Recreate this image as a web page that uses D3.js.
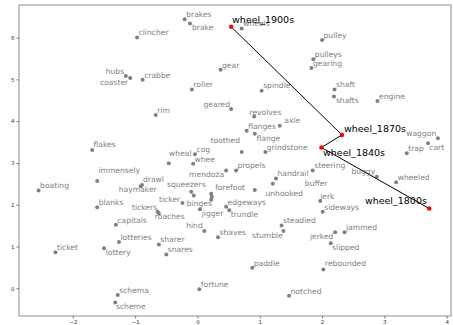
<!DOCTYPE html>
<html>
<head>
<meta charset="utf-8">
<script src="https://cdn.jsdelivr.net/npm/d3@7"></script>
<style>
html,body{margin:0;padding:0;background:#fff;}
svg{display:block;}
</style>
</head>
<body>
<svg id="chart" width="453" height="325"></svg>
<script>
// ---- data ----
const words = ["brakes","brake","wheels","clincher","hubs","coaster","crabbe","gear","roller","spindle",
  "pulley","pulleys","gearing","shaft","shafts","engine","rim","geared","revolves","axle",
  "flanges","flange","toothed","grindstone","wheal","cog","whee","mendoza","propels","handrail",
  "buffer","steering","waggon","cart","trap","buggy","wheeled","flakes","immensely","boating",
  "drawl","haymaker","squeezers","binges","ticker","forefoot","","","unhooked","edgeways",
  "trundle","jigger","jerk","sideways","blanks","tickers","roaches","capitals","hind","shaves",
  "stumble","steadied","jammed","jerked","slipped","lotteries","lottery","ticket","sharer","snares",
  "paddle","rebounded","fortune","notched","schema","scheme"];
const xs = [-0.205,-0.12,0.71,-0.97,-1.15,-1.08,-0.88,0.37,-0.09,1.03,
  2.00,1.86,1.83,2.20,2.19,2.89,-0.67,0.54,0.91,1.32,
  0.79,0.92,0.71,1.09,-0.46,-0.04,-0.07,0.46,0.62,1.26,
  1.21,1.85,3.86,3.70,3.36,2.88,3.19,-1.69,-1.61,-2.55,
  -0.89,-0.91,-0.10,-0.06,-0.24,0.22,0.23,0.22,0.92,0.46,
  0.51,0.04,1.97,2.01,-1.61,-0.64,-0.62,-1.31,0.11,0.33,
  1.38,1.35,2.36,2.21,2.14,-1.26,-1.50,-2.28,-0.62,-0.50,
  0.88,2.02,0.03,1.47,-1.28,-1.32];
const ys = [6.44,6.34,6.22,6.00,5.08,5.03,4.99,5.23,4.76,4.73,
  5.94,5.48,5.27,4.76,4.59,4.48,4.15,4.29,4.11,3.89,
  3.77,3.70,3.26,3.26,2.99,3.21,2.98,2.82,2.82,2.63,
  2.50,2.82,3.59,3.47,3.23,2.67,2.54,3.31,2.57,2.34,
  2.47,2.44,2.31,2.22,2.04,2.26,2.19,2.12,2.35,1.95,
  1.87,1.89,2.09,1.83,1.94,1.83,1.79,1.52,1.37,1.22,
  1.37,1.50,1.34,1.34,1.08,1.11,0.96,0.86,1.05,0.81,
  0.49,0.45,-0.02,-0.18,-0.16,-0.34];

const decades = ["wheel_1900s","wheel_1870s","wheel_1840s","wheel_1800s"];
const decadeX = [0.54, 2.32, 1.99, 3.72];
const decadeY = [6.26, 3.67, 3.37, 1.91];

const xTicks = [-2,-1,0,1,2,3,4];
const yTicks = [0,1,2,3,4,5,6];

// ---- label layout (pixel offsets from point: dx, dy to text centre, anchor) ----
const defOff = [1.5, -5, "start"];
const labelOff = {
  brake:[2,4,"start"], hubs:[-1.7,-5,"end"], coaster:[-2,3.7,"end"], shafts:[2,4,"start"],
  geared:[-1,-5,"end"], revolves:[-4.7,-4.4,"start"], axle:[4.6,-5,"start"], flange:[1.7,4.3,"start"],
  toothed:[-1.7,-12.3,"end"], wheal:[0.3,-10,"start"], mendoza:[-2,3.3,"end"], buffer:[32,-0.7,"start"],
  waggon:[-1.7,-5,"end"], cart:[1.3,4.4,"start"], buggy:[-1.7,-5,"end"], flakes:[1.3,-6,"start"],
  immensely:[1.3,-10.7,"start"], haymaker:[-22,3,"start"], squeezers:[-24.3,-7.4,"start"],
  binges:[-7,7.3,"start"], ticker:[-2.3,-4,"end"], forefoot:[4,-6.3,"start"], unhooked:[10.7,2.7,"start"],
  trundle:[1.5,4,"start"], jigger:[1.7,4,"start"], jerk:[0,-5,"start"], tickers:[-0.5,-5,"end"],
  roaches:[-4,3.2,"start"], hind:[-1.6,-5.3,"end"], stumble:[-0.6,4.7,"end"], jerked:[-1.7,3.7,"end"],
  slipped:[1.3,4,"start"], lottery:[1.7,4.4,"start"], rebounded:[1.7,-6,"start"], scheme:[0.7,3.7,"start"],
  drawl:[1,-6,"start"]
};
const decadeOff = [[1,-6.7,"start"],[2,-6.7,"start"],[1.6,4.6,"start"],[-2.3,-7.8,"end"]];

// ---- chart ----
const svg = d3.select("#chart");
const L = 19, R = 451, T = 5, B = 316;
const x = d3.scaleLinear().domain([-2.865, 4.07]).range([L, R]);
const y = d3.scaleLinear().domain([-0.663, 6.78]).range([B, T]);
const font = "DejaVu Sans, sans-serif";

// frame
svg.append("rect").attr("x", L).attr("y", T).attr("width", R - L).attr("height", B - T)
  .attr("fill", "none").attr("stroke", "#8c8c8c").attr("stroke-width", 1);

const xAxis = svg.append("g").attr("transform", `translate(0,${B})`)
  .call(d3.axisBottom(x).tickValues(xTicks).tickFormat(d => d < 0 ? "\u2212" + Math.abs(d) : d).tickSize(2.5).tickPadding(2));
const yAxis = svg.append("g").attr("transform", `translate(${L},0)`)
  .call(d3.axisLeft(y).tickValues(yTicks).tickSize(2.5).tickPadding(2));
[xAxis, yAxis].forEach(g => {
  g.select(".domain").remove();
  g.selectAll("line").attr("stroke", "#555").attr("stroke-width", 0.8);
  g.selectAll("text").attr("font-family", font).attr("font-size", 5.5).attr("fill", "#333");
});

const pts = words.map((w, i) => ({ w, x: xs[i], y: ys[i] }));

// gray points
svg.append("g").selectAll("circle").data(pts).join("circle")
  .attr("cx", d => x(d.x)).attr("cy", d => y(d.y)).attr("r", 2)
  .attr("fill", "#808080");

// gray labels
const gfs = 7.6;
svg.append("g").selectAll("text").data(pts.filter(d => d.w)).join("text")
  .attr("x", d => x(d.x) + (labelOff[d.w] || defOff)[0])
  .attr("y", d => y(d.y) + (labelOff[d.w] || defOff)[1] + gfs * 0.36)
  .attr("text-anchor", d => (labelOff[d.w] || defOff)[2])
  .attr("font-family", font).attr("font-size", gfs).attr("fill", "#808080")
  .text(d => d.w);

// trajectory
const traj = decades.map((w, i) => ({ w, x: decadeX[i], y: decadeY[i] }));
svg.append("path").datum(traj)
  .attr("d", d3.line().x(d => x(d.x)).y(d => y(d.y)))
  .attr("fill", "none").attr("stroke", "#000").attr("stroke-width", 1);
svg.append("g").selectAll("circle").data(traj).join("circle")
  .attr("cx", d => x(d.x)).attr("cy", d => y(d.y)).attr("r", 2.2)
  .attr("fill", "#ff0000");
const bfs = 9.5;
svg.append("g").selectAll("text").data(traj).join("text")
  .attr("x", (d, i) => x(d.x) + decadeOff[i][0])
  .attr("y", (d, i) => y(d.y) + decadeOff[i][1] + bfs * 0.36)
  .attr("text-anchor", (d, i) => decadeOff[i][2])
  .attr("font-family", font).attr("font-size", bfs).attr("fill", "#000")
  .text(d => d.w);
</script>
</body>
</html>
